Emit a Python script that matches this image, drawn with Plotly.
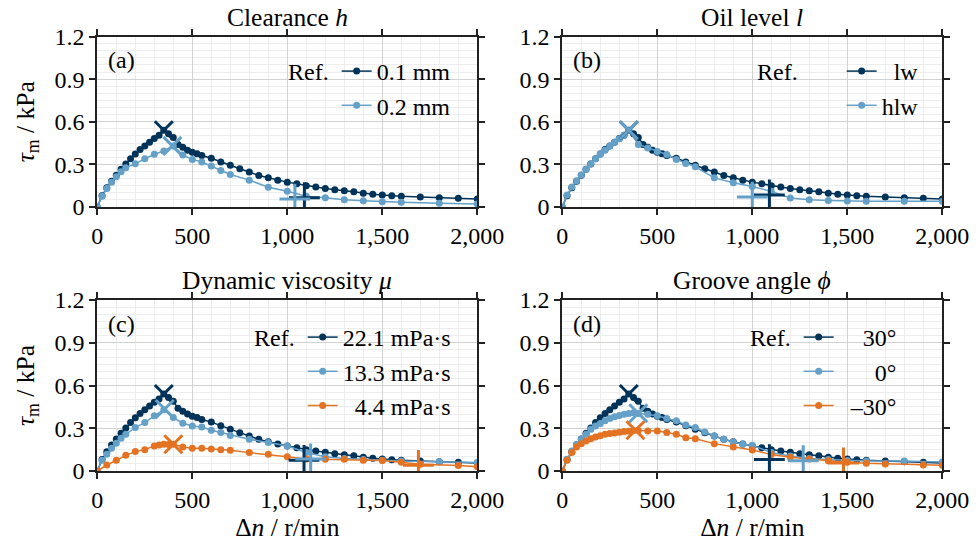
import plotly.graph_objects as go

# ---------------- data ----------------
# Reference series (dark) - same in all panels
x_ref = [0, 25, 50, 75, 100, 125, 150, 175, 200, 225, 250, 275, 300, 325, 350, 375, 400, 425, 450, 475, 500, 525, 550,
         600, 650, 700, 750, 800, 850, 900, 950, 1000, 1050, 1100, 1150, 1200, 1250, 1300, 1350, 1400, 1450, 1500, 1550, 1600,
         1700, 1800, 1900, 2000]
y_ref = [0, 0.08, 0.135, 0.182, 0.224, 0.265, 0.302, 0.34, 0.373, 0.404, 0.43, 0.456, 0.482, 0.505, 0.54,
         0.515, 0.49, 0.44, 0.42, 0.40, 0.385, 0.375, 0.362,
         0.343, 0.317, 0.293, 0.269, 0.246, 0.222, 0.206, 0.189, 0.175, 0.163, 0.15, 0.14, 0.131, 0.121, 0.114, 0.107,
         0.097, 0.09, 0.084, 0.079, 0.075,
         0.07, 0.065, 0.061, 0.056]

# (a) clearance 0.2 mm
x_a2 = [0, 25, 50, 75, 100, 125, 150, 200, 250, 300, 350, 400, 450, 500, 550, 600, 650, 700, 800, 900, 1000,
        1100, 1200, 1300, 1400, 1500, 1600, 1800, 2000]
y_a2 = [0, 0.075, 0.13, 0.175, 0.213, 0.248, 0.276, 0.305, 0.34, 0.371, 0.394, 0.43, 0.366, 0.335, 0.317, 0.288,
        0.257, 0.229, 0.189, 0.139, 0.111, 0.075, 0.065, 0.051, 0.044, 0.037, 0.033, 0.026, 0.021]

# (b) oil level hlw
x_b2 = [0, 25, 50, 75, 100, 125, 150, 175, 200, 225, 250, 275, 300, 325, 350, 400, 450, 500, 550, 600, 650, 700,
        800, 900, 1000, 1100, 1200, 1300, 1400, 1500, 1600, 1800, 2000]
y_b2 = [0, 0.085, 0.14, 0.185, 0.226, 0.265, 0.305, 0.34, 0.372, 0.40, 0.43, 0.455, 0.48, 0.505, 0.54,
        0.44, 0.415, 0.39, 0.37, 0.335, 0.307, 0.283,
        0.205, 0.17, 0.145, 0.11, 0.063, 0.051, 0.046, 0.042, 0.04, 0.041, 0.041]

# (c) viscosity 13.3 mPa s
x_c2 = [0, 25, 50, 75, 100, 125, 150, 200, 250, 300, 350, 400, 450, 500, 550, 600, 650, 700, 800, 900, 1000,
        1100, 1200, 1300, 1400, 1500, 1600, 1800, 2000]
y_c2 = [0, 0.075, 0.117, 0.159, 0.195, 0.23, 0.258, 0.305, 0.34, 0.387, 0.43, 0.375, 0.335, 0.316, 0.309, 0.286,
        0.27, 0.25, 0.223, 0.2, 0.176, 0.13, 0.1, 0.087, 0.08, 0.075, 0.07, 0.065, 0.06]
# (c) viscosity 4.4 mPa s
x_c3 = [0, 50, 100, 150, 200, 250, 300, 325, 350, 375, 400, 450, 500, 550, 600, 650, 700, 800, 900, 1000,
        1100, 1200, 1300, 1400, 1500, 1600, 1700, 1900, 2000]
y_c3 = [0, 0.042, 0.075, 0.11, 0.136, 0.15, 0.176, 0.183, 0.1875, 0.186, 0.1875, 0.169, 0.16, 0.16, 0.155, 0.15,
        0.145, 0.129, 0.117, 0.1, 0.084, 0.082, 0.082, 0.075, 0.073, 0.061, 0.047, 0.038, 0.03]

# (d) groove angle 0 deg
x_d2 = [0, 25, 50, 75, 100, 125, 150, 175, 200, 225, 250, 275, 300, 325, 350, 375, 400,
        450, 500, 550, 600, 650, 700, 750, 800, 850, 900, 950, 1000,
        1100, 1200, 1300, 1400, 1500, 1600, 1800, 2000]
y_d2 = [0, 0.082, 0.14, 0.1875, 0.223, 0.258, 0.293, 0.316, 0.333, 0.352, 0.368, 0.38, 0.389, 0.398, 0.403, 0.408, 0.403,
        0.398, 0.387, 0.368, 0.352, 0.323, 0.305, 0.274, 0.246, 0.223, 0.204, 0.1875, 0.18,
        0.13, 0.105, 0.088, 0.08, 0.073, 0.07, 0.07, 0.063]
# (d) groove angle -30 deg
x_d3 = [0, 25, 50, 75, 100, 125, 150, 175, 200, 225, 250, 275, 300, 325, 350, 375, 400,
        450, 500, 550, 600, 650, 700, 800, 900, 1000,
        1100, 1200, 1300, 1400, 1500, 1600, 1700, 1900, 2000]
y_d3 = [0, 0.075, 0.129, 0.169, 0.192, 0.211, 0.227, 0.239, 0.248, 0.258, 0.2625, 0.267, 0.272, 0.277, 0.279, 0.284, 0.284,
        0.281, 0.281, 0.27, 0.258, 0.234, 0.227, 0.192, 0.169, 0.148,
        0.115, 0.096, 0.084, 0.072, 0.062, 0.055, 0.05, 0.042, 0.04]

# peak markers (x) and transition markers (+) per panel: [dark, light, orange]
peak_x = {"a": [350, 395], "b": [350, 350], "c": [350, 355, 400], "d": [350, 400, 385]}
peak_y = {"a": [0.54, 0.43], "b": [0.54, 0.54], "c": [0.54, 0.435, 0.1875], "d": [0.54, 0.405, 0.286]}
plus_x = {"a": [1090, 1040], "b": [1090, 1000], "c": [1088, 1123, 1690], "d": [1090, 1268, 1480]}
plus_y = {"a": [0.065, 0.056], "b": [0.085, 0.07], "c": [0.075, 0.085, 0.04], "d": [0.08, 0.072, 0.056]}

titles = ["Clearance <i>h</i>", "Oil level <i>l</i>", "Dynamic viscosity <i>μ</i>", "Groove angle <i>ϕ</i>"]
panel_tags = ["(a)", "(b)", "(c)", "(d)"]
labels = {
    "a": ["0.1 mm", "0.2 mm"],
    "b": ["\u2007lw", "hlw"],
    "c": ["22.1 mPa·s", "13.3 mPa·s", "\u20074.4 mPa·s"],
    "d": ["\u2007\u200730°", "\u2007\u2007\u20070°", "\u2007–30°"],
}
legend_titles = {"a": "Ref.", "b": "Ref.\u2003\u00a0\u00a0", "c": "Ref.", "d": "Ref."}
series = {
    "a": [(x_ref, y_ref), (x_a2, y_a2)],
    "b": [(x_ref, y_ref), (x_b2, y_b2)],
    "c": [(x_ref, y_ref), (x_c2, y_c2), (x_c3, y_c3)],
    "d": [(x_ref, y_ref), (x_d2, y_d2), (x_d3, y_d3)],
}

COLORS = ["#003359", "#64A0C8", "#E37222"]
FONT = "Liberation Serif, Times New Roman, serif"
FS = 24
FS_TITLE = 25.5

W, H = 980, 550
xdom = {"a": [97.3 / W, 477.3 / W], "b": [562.3 / W, 942.3 / W]}
xdom["c"], xdom["d"] = xdom["a"], xdom["b"]
ydom_top = [1 - 207 / H, 1 - 36.5 / H]
ydom_bot = [1 - 471 / H, 1 - 300 / H]
ydom = {"a": ydom_top, "b": ydom_top, "c": ydom_bot, "d": ydom_bot}

fig = go.Figure()
keys = ["a", "b", "c", "d"]
legend_names = ["legend", "legend2", "legend3", "legend4"]

for i, k in enumerate(keys):
    ax = "" if i == 0 else str(i + 1)
    xa, ya = "x" + ax, "y" + ax
    for j, (xs, ys) in enumerate(series[k]):
        fig.add_trace(go.Scatter(
            x=xs, y=ys, mode="lines+markers", name=labels[k][j],
            line=dict(color=COLORS[j], width=1.5),
            marker=dict(color=COLORS[j], size=7),
            xaxis=xa, yaxis=ya, legend=legend_names[i], showlegend=True,
        ))
    for j in range(len(series[k])):
        fig.add_trace(go.Scatter(
            x=[peak_x[k][j]], y=[peak_y[k][j]], mode="markers",
            marker=dict(symbol="x-thin", size=18, line=dict(color=COLORS[j], width=3)),
            xaxis=xa, yaxis=ya, showlegend=False,
        ))
        fig.add_trace(go.Scatter(
            x=[plus_x[k][j]], y=[plus_y[k][j]], mode="markers",
            marker=dict(symbol="cross-thin", size=22, line=dict(color=COLORS[j], width=3)),
            xaxis=xa, yaxis=ya, showlegend=False,
        ))

axis_common = dict(
    showline=True, linecolor="#222222", linewidth=2, mirror="ticks",
    ticks="outside", ticklen=6, tickwidth=2, tickcolor="#222222",
    showgrid=True, gridcolor="#d2d2d2", gridwidth=1, zeroline=False,
    tickfont=dict(family=FONT, size=FS, color="black"), automargin=False,
)

layout = dict(
    width=W, height=H, margin=dict(l=0, r=0, t=0, b=0, autoexpand=False),
    paper_bgcolor="white", plot_bgcolor="white",
    font=dict(family=FONT, size=FS, color="black"),
    showlegend=True,
)
for i, k in enumerate(keys):
    ax = "" if i == 0 else str(i + 1)
    xd = dict(
        axis_common, domain=xdom[k], range=[0, 2000], dtick=500, tickformat=",",
        anchor="y" + ax,
        minor=dict(dtick=100, showgrid=True, gridcolor="#ededed", gridwidth=1),
    )
    if k in ("c", "d"):
        xd["title"] = dict(text="Δ<i>n</i> / r/min", font=dict(family=FONT, size=FS_TITLE), standoff=5)
    layout["xaxis" + ax] = xd
    yd = dict(
        axis_common, domain=ydom[k], range=[0, 1.2], dtick=0.3, tick0=0,
        anchor="x" + ax,
        minor=dict(dtick=0.05, showgrid=True, gridcolor="#ededed", gridwidth=1),
    )
    if k in ("a", "c"):
        yd["title"] = dict(text="<i>τ</i><sub>m</sub> / kPa", font=dict(family=FONT, size=FS_TITLE), standoff=13)
    layout["yaxis" + ax] = yd

# legends (right edge, top) in pixels
leg_pos = {"a": (456, 49), "b": (924, 49), "c": (456, 315), "d": (902, 315)}
for i, k in enumerate(keys):
    px, py = leg_pos[k]
    layout[legend_names[i]] = dict(
        x=px / W, y=1 - py / H, xanchor="right", yanchor="top",
        bgcolor="rgba(0,0,0,0)", borderwidth=0,
        font=dict(family=FONT, size=FS, color="black"),
        title=dict(text=legend_titles[k], side="left", font=dict(family=FONT, size=FS)),
        tracegroupgap=0, itemwidth=30,
    )

fig.update_layout(**layout)

# titles and panel tags
for i, k in enumerate(keys):
    ax = "" if i == 0 else str(i + 1)
    fig.add_annotation(
        text=titles[i], xref="x" + ax + " domain", yref="y" + ax + " domain",
        x=0.5, y=1.0, yshift=3, xanchor="center", yanchor="bottom", showarrow=False,
        font=dict(family=FONT, size=FS_TITLE, color="black"),
    )
    fig.add_annotation(
        text=panel_tags[i], xref="x" + ax + " domain", yref="y" + ax + " domain",
        x=0.022, y=0.86, xanchor="left", yanchor="middle", showarrow=False,
        font=dict(family=FONT, size=FS, color="black"),
    )

fig.write_html("out.html")
